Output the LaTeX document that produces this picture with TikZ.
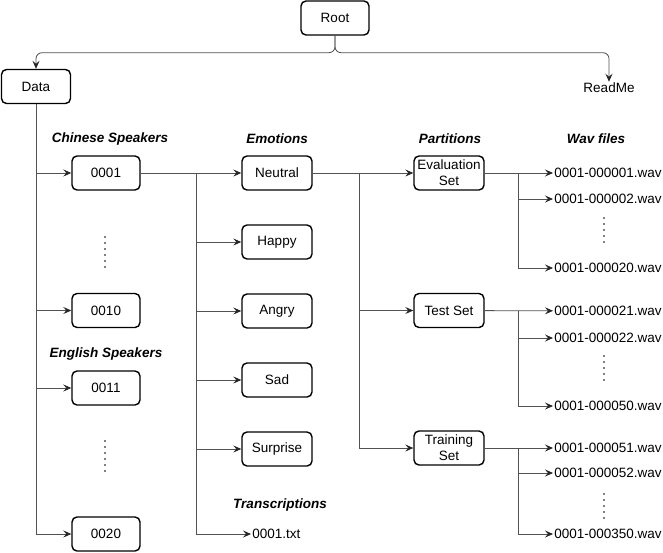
\documentclass[tikz,border=0pt]{standalone}
\usepackage{fontspec}
\setmainfont{Liberation Sans}
\usetikzlibrary{arrows.meta}

\begin{document}
\begin{tikzpicture}[x=1pt,y=-1pt,->,>={Stealth[length=8pt,width=7pt,inset=3pt,color=black!85]},semithick,
                    font=\fontsize{13.5}{16}\selectfont,
                    link/.style={draw=black!68,line width=0.8pt},
                    box/.style={draw,-,rounded corners=5pt,line width=1.4pt,minimum width=68pt,
                                minimum height=34pt,align=center,inner sep=2pt},
                    file/.style={inner sep=1pt,anchor=west},
                    head/.style={font=\fontsize{13.5}{16}\selectfont\bfseries\itshape},
                    vdots/.style={-,line width=1.6pt,dash pattern=on 0pt off 6pt,line cap=round}]
  \useasboundingbox (0,0) rectangle (663,552);

  \node[box]                    (root)   at (335,18)   {Root};
  \node[box,minimum width=69pt] (data)   at (36,86.5)  {Data};
  \node[inner sep=1pt]          (readme) at (609,88)   {ReadMe};

  % speakers
  \node[head]  (chn)   at (110,139) {Chinese Speakers};
  \node[box]   (s0001) at (106,173) {0001};
  \node[box]   (s0010) [below of=s0001, node distance=137.5pt] {0010};
  \node[head]  (eng)   at (106,354) {English Speakers};
  \node[box]   (s0011) at (106,388) {0011};
  \node[box]   (s0020) [below of=s0011, node distance=146pt] {0020};

  % emotions
  \node[head] (emo)      at (277,139) {Emotions};
  \node[box,minimum width=70pt] (neutral)  at (277,173) {Neutral};
  \node[box,minimum width=70pt] (happy)    [below of=neutral, node distance=69pt] {Happy};
  \node[box,minimum width=70pt] (angry)    [below of=happy,   node distance=69pt] {Angry};
  \node[box,minimum width=70pt] (sad)      [below of=angry,   node distance=69pt] {Sad};
  \node[box,minimum width=70pt] (surprise) [below of=sad,     node distance=69pt] {Surprise};
  \node[head] (trn)      at (280,505) {Transcriptions};
  \node[file] (txt)      at (251,534) {0001.txt};

  % partitions
  \node[head] (part)  at (450,139) {Partitions};
  \node[box,minimum width=70pt] (eval)  at (449,173) {Evaluation\\Set};
  \node[box,minimum width=70pt] (test)  [below of=eval, node distance=137.5pt] {Test Set};
  \node[box,minimum width=70pt] (train) [below of=test, node distance=137.5pt] {Training\\Set};

  % wav files
  \node[head] (wav) at (596,139) {Wav files};
  \foreach \n/\y in {000001/173,000002/199,000020/268,
                     000021/311,000022/338,000050/406,
                     000051/448,000052/473,000350/534}
    \node[file] (w\n) at (553,\y) {0001-\n.wav};

  % root
  \draw[link,rounded corners=6pt] (root.south) -- ++(0,17) -| (data.north);
  \draw[link,rounded corners=6pt] (root.south) -- ++(0,17) -| (readme.north);

  \foreach \s in {s0001,s0010,s0011,s0020}
    \draw[link] (data.south) |- (\s.west);

  \path (s0001.east) ++(56,0) coordinate (ebus);
  \draw[link] (s0001) -- (neutral);
  \foreach \e in {happy,angry,sad,surprise,txt}
    \draw[link] (ebus) |- (\e.west);

  \path (neutral.east) ++(47,0) coordinate (pbus);
  \draw[link] (neutral) -- (eval);
  \foreach \p in {test,train}
    \draw[link] (pbus) |- (\p.west);

  \path (eval.east)  ++(34,0) coordinate (evbus);
  \path (test.east)  ++(34,0) coordinate (tsbus);
  \path (train.east) ++(34,0) coordinate (trbus);
  \draw[link] (eval)  -- (w000001);
  \draw[link] (evbus) |- (w000002.west);
  \draw[link] (evbus) |- (w000020.west);
  \draw[link] (test)  -- (w000021);
  \draw[link] (tsbus) |- (w000022.west);
  \draw[link] (tsbus) |- (w000050.west);
  \draw[link] (train) -- (w000051);
  \draw[link] (trbus) |- (w000052.west);
  \draw[link] (trbus) |- (w000350.west);

  % dots
  \draw[vdots] (105,237) -- (105,268);
  \draw[vdots] (105,441) -- (105,476);
  \draw[vdots] (604,218) -- (604,243);
  \draw[vdots] (604,356) -- (604,381);
  \draw[vdots] (604,494) -- (604,519);

\end{tikzpicture}
\end{document}
